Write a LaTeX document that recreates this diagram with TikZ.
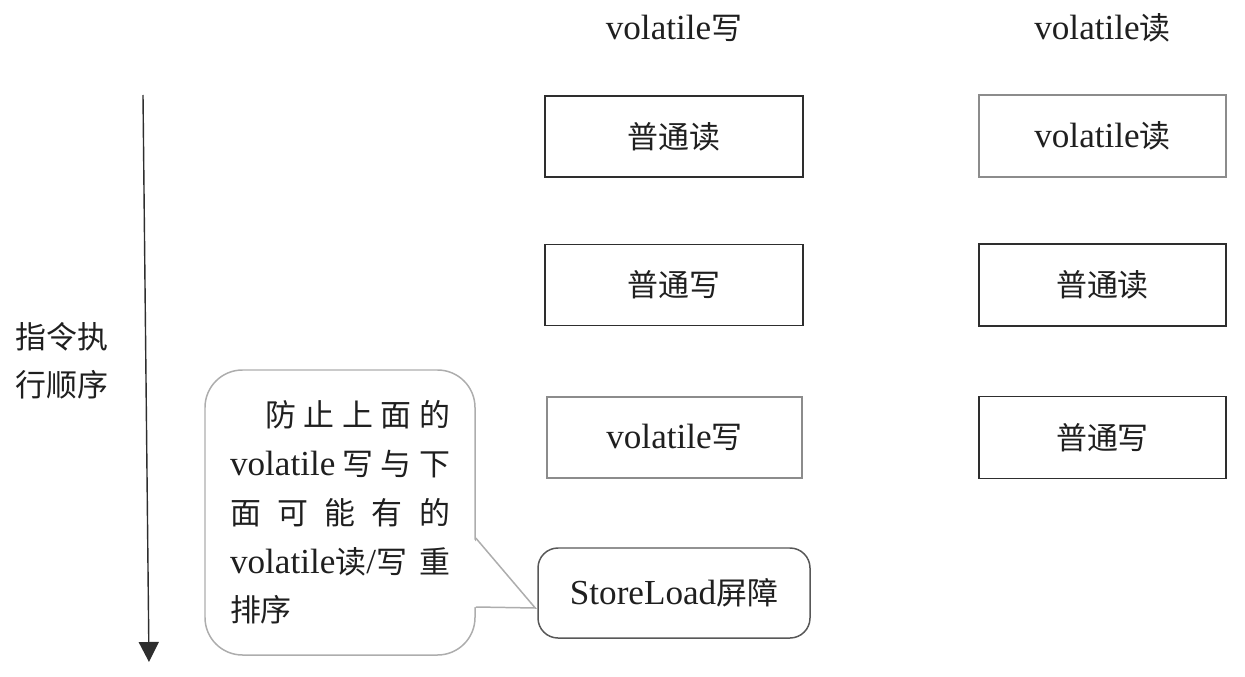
\documentclass[tikz,border=0pt]{standalone}
\usepackage{fontspec}
\setmainfont{Liberation Serif}
\newfontfamily\cjk[Scale=0.88]{Noto Sans CJK SC}
\usetikzlibrary{arrows.meta,calc}
\definecolor{ink}{rgb}{0.12,0.12,0.12}
\definecolor{edgedark}{rgb}{0.18,0.18,0.18}
\definecolor{edgegray}{rgb}{0.55,0.55,0.55}
\definecolor{edgelight}{rgb}{0.68,0.68,0.68}
\newcommand{\zh}[1]{{\cjk #1}}
\newcommand{\spreadline}[1]{\makebox[4.4cm][s]{#1}}

\begin{document}
\begin{tikzpicture}[
  every node/.style={font=\fontsize{20}{27.8}\selectfont, text=ink},
  opbox/.style={
    rectangle, draw=edgedark, line width=0.85pt,
    minimum width=5.16cm, minimum height=1.62cm,
    align=center
  },
  readbox/.style={opbox, minimum width=4.94cm, minimum height=1.64cm},
  barrierbox/.style={
    rectangle, rounded corners=0.4cm,
    draw=edgedark!80, line width=0.85pt,
    minimum width=5.44cm, minimum height=1.8cm,
    align=center
  },
  notebox/.style={
    rectangle, rounded corners=0.75cm,
    draw=edgelight, line width=0.85pt,
    minimum width=5.4cm, minimum height=5.7cm,
    align=left
  },
  timearrow/.style={-{Triangle[width=0.4cm,length=0.4cm]}, draw=edgedark, line width=0.8pt}
]
\useasboundingbox (0,0) rectangle (24.9,-13.54);

% Column headers
\node (hdrwrite) at (13.48,-0.56) {volatile\zh{写}};
\node (hdrread) at (22.05,-0.56) {volatile\zh{读}};

% Left column - volatile write
\node[opbox] (wnormread) at (13.48,-2.73) {\zh{普通读}};
\node[opbox] (wnormwrite) at (13.48,-5.70) {\zh{普通写}};
\node[opbox, draw=edgegray, minimum width=5.1cm] (wvolwrite) at (13.49,-8.75) {volatile\zh{写}};
\node[barrierbox] (barrier) at (13.48,-11.86) {StoreLoad\zh{屏障}};

% Right column - volatile read
\node[readbox, draw=edgegray] (rvolread) at (22.05,-2.72) {volatile\zh{读}};
\node[readbox] (rnormread) at (22.05,-5.70) {\zh{普通读}};
\node[readbox] (rnormwrite) at (22.05,-8.75) {\zh{普通写}};

% Execution order arrow
\coordinate (flowtop) at (2.86,-1.9);
\coordinate (flowend) at (2.98,-13.24);
\draw[timearrow] (flowtop) -- (flowend);
\node[align=center, font=\fontsize{20}{27.4}\selectfont] (orderlabel) at (1.24,-7.22) {\zh{指令执}\\\zh{行顺序}};

% Callout explaining the barrier
\node[notebox] (note) at (6.8,-10.25) {%
  \spreadline{\hspace{0.7cm}\zh{防}\hfill\zh{止}\hfill\zh{上}\hfill\zh{面}\hfill\zh{的}}\\
  \spreadline{volatile\hfill\zh{写}\hfill\zh{与}\hfill\zh{下}}\\
  \spreadline{\zh{面}\hfill\zh{可}\hfill\zh{能}\hfill\zh{有}\hfill\zh{的}}\\
  \spreadline{volatile\zh{读}/\zh{写}\hfill\zh{重}}\\
  \zh{排序}%
};
\coordinate (notetip) at ($(barrier.west)+(-0.04,-0.3)$);
\fill[white] ($(note.east)+(-0.06,-0.51)$) -- (notetip) -- ($(note.east)+(-0.06,-1.89)$) -- cycle;
\draw[draw=edgelight, line width=0.85pt] ($(note.east)+(0,-0.51)$) -- (notetip) -- ($(note.east)+(0,-1.89)$);

\end{tikzpicture}
\end{document}
